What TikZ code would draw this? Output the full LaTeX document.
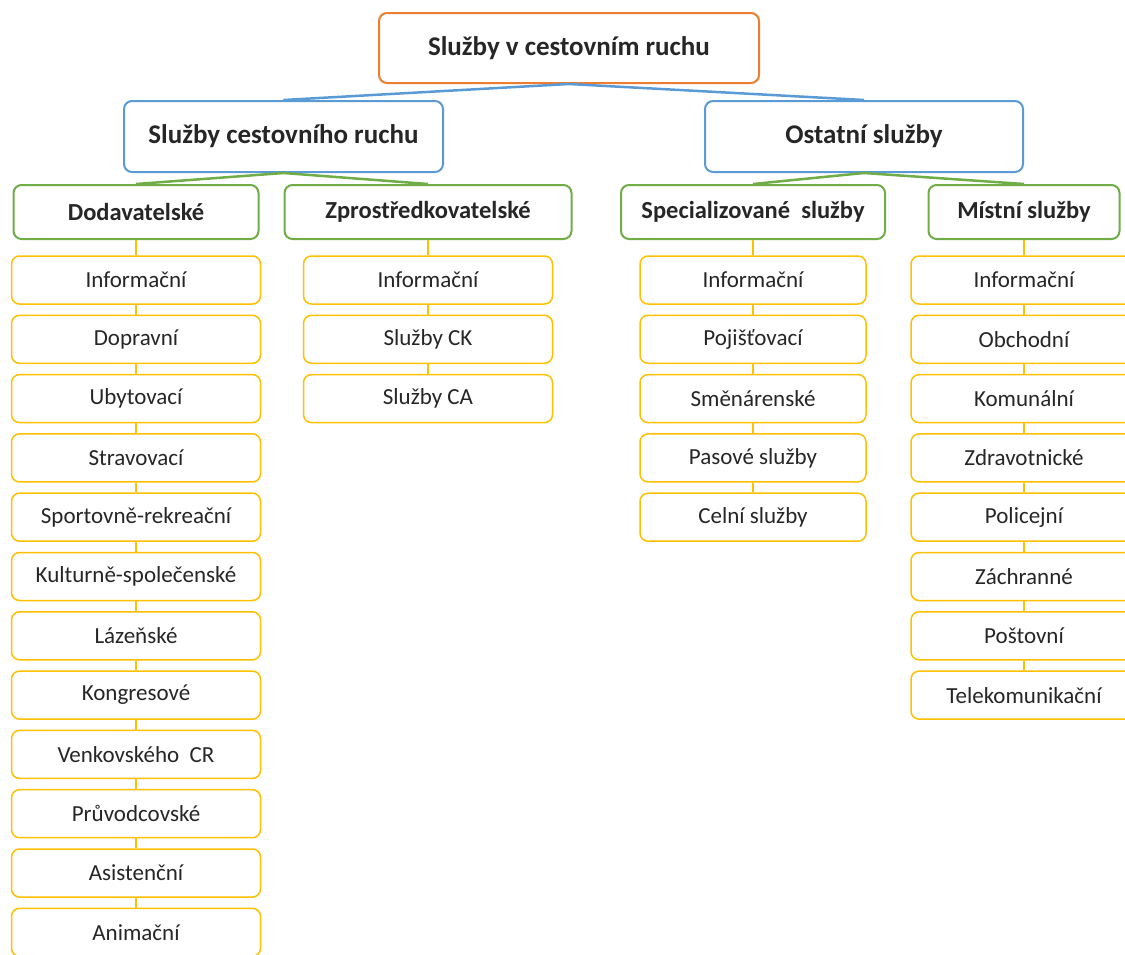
\documentclass[tikz,border=0pt]{standalone}
\usepackage{fontspec}
\setmainfont{Carlito}
\definecolor{corange}{HTML}{ED7D31}
\definecolor{cblue}{HTML}{5B9BD5}
\definecolor{cgreen}{HTML}{70AD47}
\definecolor{cgold}{HTML}{FFC000}
\definecolor{ctext}{HTML}{262626}
\begin{document}
\begin{tikzpicture}[x=1pt,y=-1pt,
  box/.style={draw, rounded corners=8pt, fill=white, line width=2pt, text=ctext, inner sep=0pt, align=center},
  rootbox/.style={box, draw=corange, minimum width=380pt, minimum height=70pt, font=\fontsize{27}{32}\selectfont\bfseries},
  catbox/.style={box, draw=cblue, minimum width=319pt, minimum height=71pt, font=\fontsize{27}{32}\selectfont\bfseries},
  grpbox/.style={box, draw=cgreen, minimum height=54pt, font=\fontsize{24.5}{29}\selectfont\bfseries},
  itembox/.style={box, draw=cgold, line width=1.5pt, minimum height=48pt, font=\fontsize{23}{27}\selectfont},
  bline/.style={draw=cblue, line width=2.5pt},
  gline/.style={draw=cgreen, line width=2.5pt},
  yline/.style={draw=cgold, line width=2.5pt}]
\useasboundingbox (0,0) rectangle (1125,954);
\clip (0,0) rectangle (1125,954);

\node[rootbox] (root) at (569,48) {Služby v cestovním ruchu};
\node[catbox] (cr) at (283.5,136.5) {Služby cestovního ruchu};
\node[catbox, minimum width=318pt] (os) at (864,136.5) {Ostatní služby};

\node[grpbox, minimum width=245pt] (dod) at (136,212) {Dodavatelské};
\node[grpbox, minimum width=287pt] (zpr) at (428,212) {Zprostředkovatelské};
\node[grpbox, minimum width=264pt] (spe) at (753,212) {Specializované\ \ služby};
\node[grpbox, minimum width=191pt] (mis) at (1024,212) {Místní služby};

\draw[bline] (root.south) -- (cr.north);
\draw[bline] (root.south) -- (os.north);
\draw[gline] (cr.south) -- (dod.north);
\draw[gline] (cr.south) -- (zpr.north);
\draw[gline] (os.south) -- (spe.north);
\draw[gline] (os.south) -- (mis.north);

% column 1
\foreach \t [count=\i] in {Informační,Dopravní,Ubytovací,Stravovací,Sportovně-rekreační,Kulturně-společenské,Lázeňské,Kongresové,Venkovského\ \ CR,Průvodcovské,Asistenční,Animační}
  \node[itembox, minimum width=249pt] (a\i) at (136,{280+59.3*(\i-1)}) {\t};
\draw[yline] (dod.south) -- (a1.north);
\foreach \i [evaluate=\i as \j using int(\i+1)] in {1,...,11}
  \draw[yline] (a\i.south) -- (a\j.north);

% column 2
\foreach \t [count=\i] in {Informační,Služby CK,Služby CA}
  \node[itembox, minimum width=249pt] (b\i) at (428,{280+59.3*(\i-1)}) {\t};
\draw[yline] (zpr.south) -- (b1.north);
\foreach \i [evaluate=\i as \j using int(\i+1)] in {1,2}
  \draw[yline] (b\i.south) -- (b\j.north);

% column 3
\foreach \t [count=\i] in {Informační,Pojišťovací,Směnárenské,Pasové služby,Celní služby}
  \node[itembox, minimum width=226pt] (c\i) at (753,{280+59.3*(\i-1)}) {\t};
\draw[yline] (spe.south) -- (c1.north);
\foreach \i [evaluate=\i as \j using int(\i+1)] in {1,...,4}
  \draw[yline] (c\i.south) -- (c\j.north);

% column 4
\foreach \t [count=\i] in {Informační,Obchodní,Komunální,Zdravotnické,Policejní,Záchranné,Poštovní,Telekomunikační}
  \node[itembox, minimum width=226pt] (d\i) at (1024,{280+59.3*(\i-1)}) {\t};
\draw[yline] (mis.south) -- (d1.north);
\foreach \i [evaluate=\i as \j using int(\i+1)] in {1,...,7}
  \draw[yline] (d\i.south) -- (d\j.north);
\end{tikzpicture}
\end{document}
